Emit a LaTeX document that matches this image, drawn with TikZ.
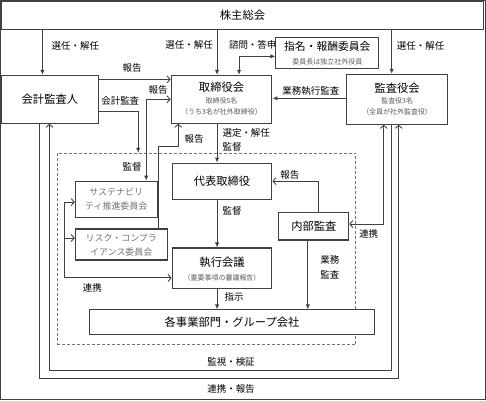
\documentclass[tikz,border=0pt]{standalone}
\usepackage{fontspec}
\setmainfont{Noto Sans CJK JP}
\usetikzlibrary{arrows.meta}
\begin{document}
\begin{tikzpicture}[x=1pt,y=-1pt,
  line width=1pt,
  every path/.style={draw=black!75},
  fh/.tip={Latex[length=5pt,width=4.5pt]},
  oh/.tip={Straight Barb[length=3pt,width=7pt,line width=0.9pt]},
  box/.style={draw=black!75, line width=1.1pt, inner sep=0pt, fill=white},
  main/.style={inner sep=0pt, font=\fontsize{11.3}{13}\selectfont, text=black},
  sub/.style={inner sep=0pt, font=\fontsize{7}{8}\selectfont, text=black!65},
  gtxt/.style={inner sep=0pt, font=\fontsize{9}{10}\selectfont, text=black!55},
  lab/.style={inner sep=0pt, font=\fontsize{9.5}{11}\selectfont, text=black}
]
\useasboundingbox (0,0) rectangle (486,400);

% dashed execution area
\node[draw=black!55, dash pattern=on 3pt off 2pt, line width=0.8pt, inner sep=0pt,
      minimum width=299, minimum height=192] (dbox) at (206.5,249) {};

% boxes
\node[box, minimum width=483, minimum height=28] (kabu) at (242.5,15) {};
\node[main] (kabu-t) at (242.5,15) {株主総会};

\node[box, minimum width=97, minimum height=48] (kaikei) at (49.5,99) {};
\node[main] (kaikei-t) at (49.5,99) {会計監査人};

\node[box, minimum width=101, minimum height=48] (tori) at (221.5,99) {};
\node[main] (tori-t) at (221.5,87) {取締役会};
\node[sub] (tori-s1) at (221.5,101) {取締役5名};
\node[sub] (tori-s2) at (221.5,112) {（うち3名が社外取締役）};

\node[box, minimum width=103, minimum height=31] (shimei) at (327.5,52.5) {};
\node[main, font=\fontsize{10.8}{12}\selectfont] (shimei-t) at (327.5,46.5) {指名・報酬委員会};
\node[sub] (shimei-s) at (327.5,61) {委員長は独立社外役員};

\node[box, minimum width=101, minimum height=50] (kansa) at (397.5,99) {};
\node[main] (kansa-t) at (397.5,88) {監査役会};
\node[sub] (kansa-s1) at (397.5,101) {監査役3名};
\node[sub] (kansa-s2) at (397.5,112) {（全員が社外監査役）};

\node[box, minimum width=100, minimum height=36] (daihyo) at (222,181) {};
\node[main] (daihyo-t) at (222,181) {代表取締役};

\node[box, minimum width=82, minimum height=36] (sus) at (116,199) {};
\node[gtxt] (sus-t1) at (116,192) {サステナビリ};
\node[gtxt] (sus-t2) at (116,206) {ティ推進委員会};

\node[box, minimum width=92, minimum height=31] (risk) at (121,244.5) {};
\node[gtxt] (risk-t1) at (121,238) {リスク・コンプラ};
\node[gtxt] (risk-t2) at (121,252) {イアンス委員会};

\node[box, minimum width=100, minimum height=41] (shikko) at (222,268.5) {};
\node[main] (shikko-t) at (222,262) {執行会議};
\node[sub] (shikko-s) at (222,278) {（重要事項の審議報告）};

\node[box, minimum width=70, minimum height=28] (naibu) at (314,226) {};
\node[main] (naibu-t) at (314,226) {内部監査};

\node[box, minimum width=286, minimum height=25] (jigyo) at (232,322.5) {};
\node[main] (jigyo-t) at (232,322.5) {各事業部門・グループ会社};

% helper coordinates
\coordinate (x39) at (39,0);
\coordinate (x42) at (42,0);
\coordinate (x49) at (49,0);
\coordinate (x64) at (64,0);
\coordinate (x138) at (138,0);
\coordinate (x146) at (146,0);
\coordinate (x158) at (158,0);
\coordinate (x178) at (178,0);
\coordinate (x217) at (217,0);
\coordinate (x239) at (239,0);
\coordinate (x308) at (308,0);
\coordinate (x319) at (319,0);
\coordinate (x384) at (384,0);
\coordinate (x392) at (392,0);
\coordinate (x399) at (399,0);
\coordinate (y56) at (0,56);
\coordinate (y79) at (0,79);
\coordinate (y98) at (0,98);
\coordinate (y99) at (0,99);
\coordinate (y111) at (0,111);
\coordinate (y146) at (0,146);
\coordinate (y202) at (0,202);
\coordinate (y224) at (0,224);
\coordinate (y238) at (0,238);
\coordinate (y278) at (0,278);
\coordinate (y371) at (0,371);
\coordinate (y379) at (0,379);

% shareholders
\draw[-fh] (kabu.south -| x42) -- (kaikei.north -| x42);
\draw[-fh] (kabu.south -| x217) -- (tori.north -| x217);
\draw[-fh] (kabu.south -| x392) -- (kansa.north -| x392);
\node[lab] (l1) at (75,45) {選任・解任};
\node[lab] (l2) at (189,44) {選任・解任};
\node[lab] (l3) at (421,45) {選任・解任};

% nomination committee
\draw[fh-fh] (tori.north -| x239) |- (shimei.west |- y56);
\node[lab, anchor=east] (l4) at (277,44) {諮問・答申};

% accounting auditor
\draw[-oh] (kaikei.east |- y79) -- (tori.west |- y79);
\node[lab] (l5) at (132,68) {報告};
\draw[-fh] (kaikei.east |- y111) -| (dbox.north -| x138);
\node[lab] (l6) at (120,101) {会計監査};

% sustainability committee <-> board
\draw[fh-oh] (sus.north -| x146) |- (tori.west |- y99);
\node[lab] (l7) at (158,90) {報告};
\node[lab] (l8) at (132,167) {監督};

% risk committee -> board
\draw[-oh] (risk.north -| x158) |- (x178 |- y146) -- (tori.south -| x178);
\node[lab] (l9) at (194,139) {報告};

% board -> representative director
\draw[-fh] (tori.south -| x217) -- (daihyo.north -| x217);
\node[lab, anchor=west] (l10) at (222,133) {選定・解任};
\node[lab, anchor=west] (l11) at (222,147) {監督};

% audit board -> board
\draw[-fh] (kansa.west |- y98) -- (tori.east |- y98);
\node[lab] (l12) at (311,91) {業務執行監査};

% representative -> executive meeting
\draw[-fh] (daihyo.south -| x217) -- (shikko.north -| x217);
\node[lab, anchor=west] (l13) at (222,211) {監督};

% internal audit
\draw[-oh] (naibu.north -| x319) |- (daihyo.east);
\node[lab] (l14) at (290,175) {報告};
\draw[oh-oh] (kansa.south -| x384) |- (naibu.east |- y224);
\node[lab] (l15) at (369,234) {連携};
\draw[-fh] (naibu.south -| x308) -- (jigyo.north -| x308);
\node[lab] (l16) at (330,260) {業務};
\node[lab] (l17) at (330,275) {監査};

% executive -> business units
\draw[-fh] (shikko.south -| x217) -- (jigyo.north -| x217);
\node[lab] (l18) at (234,297) {指示};

% cooperation among committees
\draw[oh-oh] (sus.west |- y202) -- (x64 |- y202) |- (shikko.west |- y278);
\draw[-oh] (x64 |- y238) -- (risk.west |- y238);
\node[lab] (l19) at (92,288) {連携};

% monitoring loops
\draw[-oh] (kansa.south -| x392) -- (x392 |- y371) -| (kaikei.south -| x49);
\node[lab] (l20) at (231,362) {監視・検証};
\draw[-oh] (kaikei.south -| x39) -- (x39 |- y379) -| (kansa.south -| x399);
\node[lab] (l21) at (231,389) {連携・報告};
\end{tikzpicture}
\end{document}
